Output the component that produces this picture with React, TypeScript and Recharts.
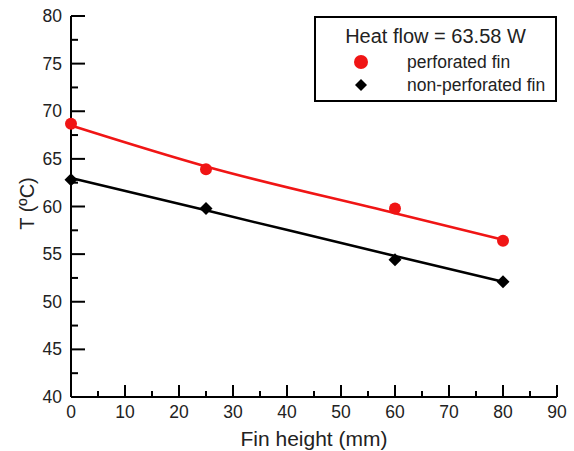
import {
    ComposedChart,
    Line,
    Scatter,
    XAxis,
    YAxis,
} from "recharts"

const finHeight = [0, 25, 60, 80]
const perforated = [68.7, 63.9, 59.8, 56.4]
const nonPerforated = [62.8, 59.8, 54.4, 52.1]
// fitted trend lines
const perforatedFit = [68.5, 64.2, 59.3, 56.5]
const nonPerforatedFit = [63.0, 59.6, 54.8, 52.1]

const xTicks = [0, 5, 10, 15, 20, 25, 30, 35, 40, 45, 50, 55, 60, 65, 70, 75, 80, 85, 90]
const yTicks = [40, 42.5, 45, 47.5, 50, 52.5, 55, 57.5, 60, 62.5, 65, 67.5, 70, 72.5, 75, 77.5, 80]

const legendTitle = "Heat flow = 63.58 W"
const perforatedName = "perforated fin"
const nonPerforatedName = "non-perforated fin"

const FONT = '"Liberation Sans", Arial, sans-serif'
const RED = "#f01515"

const toPoints = (ys: number[]) =>
    finHeight.map((x, i) => ({ x, y: ys[i] }))

const XTick = (props: any) => {
    const { x, y, payload } = props
    const major = payload.value % 10 === 0
    return (
        <g>
            <line
                x1={x}
                x2={x}
                y1={y}
                y2={y - (major ? 12 : 6)}
                stroke="#000"
                strokeWidth={2}
            />
            {major && (
                <text
                    x={x}
                    y={y + 21}
                    textAnchor="middle"
                    fontSize={17.5}
                    fontFamily={FONT}
                    fill="#222"
                >
                    {payload.value}
                </text>
            )}
        </g>
    )
}

const YTick = (props: any) => {
    const { x, y, payload } = props
    const major = payload.value % 5 === 0
    return (
        <g>
            <line
                x1={x}
                x2={x + (major ? 14 : 7)}
                y1={y}
                y2={y}
                stroke="#000"
                strokeWidth={2}
            />
            {major && (
                <text
                    x={x - 9}
                    y={y + 6}
                    textAnchor="end"
                    fontSize={17.5}
                    fontFamily={FONT}
                    fill="#222"
                >
                    {payload.value}
                </text>
            )}
        </g>
    )
}

const Diamond = (props: any) => {
    const { cx, cy } = props
    const s = 6.5
    return (
        <path
            d={`M${cx},${cy - s}L${cx + s},${cy}L${cx},${cy + s}L${cx - s},${cy}Z`}
            fill="#000"
        />
    )
}

const Dot = (props: any) => {
    const { cx, cy } = props
    return <circle cx={cx} cy={cy} r={6} fill={RED} />
}

export default function App() {
    return (
        <div
            style={{
                position: "absolute",
                left: 0,
                top: 0,
                width: 574,
                height: 451,
                background: "#fff",
                fontFamily: FONT,
            }}
        >
            <ComposedChart
                width={574}
                height={451}
                margin={{ top: 16, right: 17, bottom: 0, left: 11 }}
            >
                <XAxis
                    dataKey="x"
                    type="number"
                    domain={[0, 90]}
                    ticks={xTicks}
                    interval={0}
                    tickSize={0}
                    tickMargin={0}
                    height={54}
                    tick={<XTick />}
                    axisLine={{ stroke: "#000", strokeWidth: 2 }}
                    label={{
                        value: "Fin height (mm)",
                        position: "insideBottom",
                        offset: 5,
                        fontSize: 21,
                        fontFamily: FONT,
                        fill: "#222",
                    }}
                />
                <XAxis
                    xAxisId="top"
                    orientation="top"
                    dataKey="x"
                    type="number"
                    domain={[0, 90]}
                    height={0}
                    tick={false}
                    tickLine={false}
                    axisLine={{ stroke: "#000", strokeWidth: 2 }}
                />
                <YAxis
                    dataKey="y"
                    type="number"
                    domain={[40, 80]}
                    ticks={yTicks}
                    interval={0}
                    tickSize={0}
                    tickMargin={0}
                    width={60}
                    tick={<YTick />}
                    axisLine={{ stroke: "#000", strokeWidth: 2 }}
                    label={{
                        value: "T (ºC)",
                        angle: -90,
                        position: "insideLeft",
                        content: (p: any) => (
                            <text
                                x={27}
                                y={p.viewBox.y + p.viewBox.height / 2 - 3}
                                transform={`rotate(-90 27 ${p.viewBox.y + p.viewBox.height / 2 - 3})`}
                                textAnchor="middle"
                                dominantBaseline="central"
                                fontSize={20}
                                fontFamily={FONT}
                                fill="#222"
                            >
                                T (ºC)
                            </text>
                        ),
                    }}
                />
                <YAxis
                    yAxisId="right"
                    orientation="right"
                    type="number"
                    domain={[40, 80]}
                    width={0}
                    tick={false}
                    tickLine={false}
                    axisLine={{ stroke: "#000", strokeWidth: 2 }}
                />

                <Line
                    data={toPoints(perforatedFit)}
                    dataKey="y"
                    type="monotone"
                    stroke={RED}
                    strokeWidth={2.5}
                    dot={false}
                    isAnimationActive={false}
                />
                <Line
                    data={toPoints(nonPerforatedFit)}
                    dataKey="y"
                    type="monotone"
                    stroke="#000"
                    strokeWidth={2.5}
                    dot={false}
                    isAnimationActive={false}
                />
                <Scatter
                    name={perforatedName}
                    data={toPoints(perforated)}
                    dataKey="y"
                    shape={<Dot />}
                    isAnimationActive={false}
                />
                <Scatter
                    name={nonPerforatedName}
                    data={toPoints(nonPerforated)}
                    dataKey="y"
                    shape={<Diamond />}
                    isAnimationActive={false}
                />
            </ComposedChart>

            <div
                style={{
                    position: "absolute",
                    left: 314,
                    top: 16,
                    width: 243,
                    height: 86,
                    boxSizing: "border-box",
                    border: "2px solid #000",
                    background: "#fff",
                    color: "#222",
                }}
            >
                <div
                    style={{
                        position: "absolute",
                        left: 0,
                        right: 0,
                        top: 6,
                        textAlign: "center",
                        fontSize: 20,
                        lineHeight: "24px",
                    }}
                >
                    {legendTitle}
                </div>
                <svg
                    width={243}
                    height={86}
                    style={{ position: "absolute", left: -2, top: -2 }}
                >
                    <circle cx={47} cy={46} r={7} fill={RED} />
                    <path d="M47,63L53,69L47,75L41,69Z" fill="#000" />
                </svg>
                <div
                    style={{
                        position: "absolute",
                        left: 91,
                        top: 34,
                        fontSize: 17.5,
                        lineHeight: "20px",
                    }}
                >
                    {perforatedName}
                </div>
                <div
                    style={{
                        position: "absolute",
                        left: 91,
                        top: 57,
                        fontSize: 17.5,
                        lineHeight: "20px",
                    }}
                >
                    {nonPerforatedName}
                </div>
            </div>
        </div>
    )
}
